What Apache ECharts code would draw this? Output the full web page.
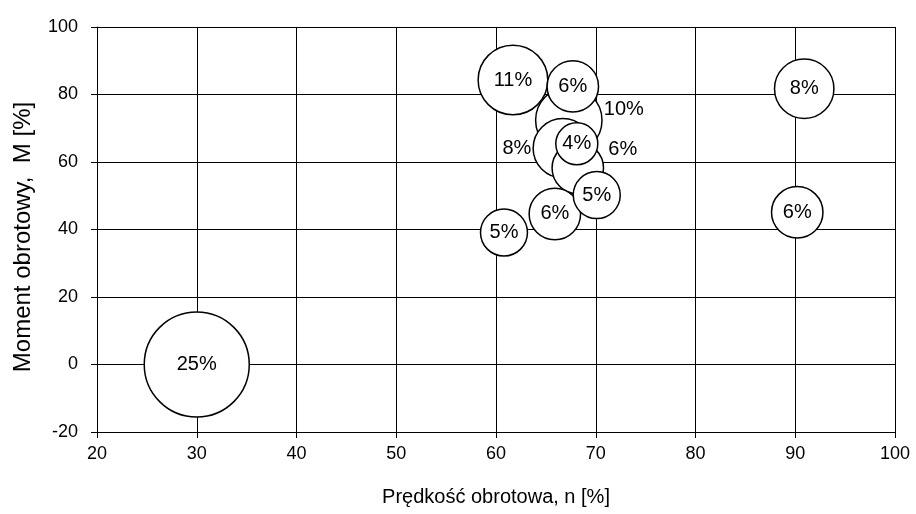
<!DOCTYPE html>
<html>
<head>
<meta charset="utf-8">
<script src="https://cdn.jsdelivr.net/npm/echarts@6/dist/echarts.min.js"></script>
<style>
html,body{margin:0;padding:0;background:#fff;}
#chart{width:916px;height:514px;}
</style>
</head>
<body>
<div id="chart"></div>
<script>
// Data (ordered largest bubble first, as drawn)
var speed  = [30, 61.7, 67.3, 66.7, 90.9, 67.7, 68.2, 65.9, 90.2, 70.1, 60.8, 68.1];
var torque = [0, 84.3, 72.4, 64.1, 81.7, 82.4, 58.2, 44.6, 45.1, 50.2, 39.1, 65.4];
var share  = [25, 11, 10, 8, 8, 6, 6, 6, 6, 5, 5, 4];
var xTitle = 'Prędkość obrotowa, n [%]';
var yTitle = 'Moment obrotowy,  M [%]';

// label placement per bubble (index-matched)
var labelPlace = {
  2: {position: 'right', distance: 1, offset: [0, -11]},
  3: {position: 'left', distance: 1, offset: [0, 0]},
  6: {position: 'right', distance: 4, offset: [0, -19]}
};

var FONT = '"Liberation Sans", Arial, sans-serif';
var data = speed.map(function (s, i) {
  var item = {value: [s, torque[i], share[i]]};
  if (labelPlace[i]) item.label = labelPlace[i];
  return item;
});

var chart = echarts.init(document.getElementById('chart'), null, {renderer: 'canvas'});
chart.setOption({
  animation: false,
  backgroundColor: '#ffffff',
  grid: {left: 97, right: 21, top: 27, bottom: 82, containLabel: false},
  xAxis: {
    type: 'value', min: 20, max: 100, interval: 10,
    name: xTitle, nameLocation: 'middle', nameGap: 55,
    nameTextStyle: {fontFamily: FONT, fontSize: 20, color: '#000'},
    axisLine: {show: true, onZero: false, lineStyle: {color: '#000', width: 1}},
    axisTick: {show: true, inside: false, length: 6, lineStyle: {color: '#000'}},
    axisLabel: {fontFamily: FONT, fontSize: 18, color: '#000', margin: 13},
    splitLine: {show: true, lineStyle: {color: '#000', width: 1}}
  },
  yAxis: {
    type: 'value', min: -20, max: 100, interval: 20,
    name: yTitle, nameLocation: 'middle', nameGap: 62, nameRotate: 90,
    nameTextStyle: {fontFamily: FONT, fontSize: 24, color: '#000', padding: [0, 15, 0, 0]},
    axisLine: {show: true, onZero: false, lineStyle: {color: '#000', width: 1}},
    axisTick: {show: true, inside: false, length: 6, lineStyle: {color: '#000'}},
    axisLabel: {fontFamily: FONT, fontSize: 18, color: '#000', margin: 19},
    splitLine: {show: true, lineStyle: {color: '#000', width: 1}}
  },
  series: [{
    type: 'scatter',
    data: data,
    symbol: 'circle',
    symbolSize: function (v) { return 21 * Math.sqrt(v[2]); },
    itemStyle: {color: '#ffffff', borderColor: '#000', borderWidth: 1.5, opacity: 1},
    label: {
      show: true, position: 'inside', color: '#000', fontFamily: FONT, fontSize: 20,
      formatter: function (p) { return p.value[2] + '%'; }
    },
    emphasis: {disabled: true}
  }]
});
</script>
</body>
</html>
